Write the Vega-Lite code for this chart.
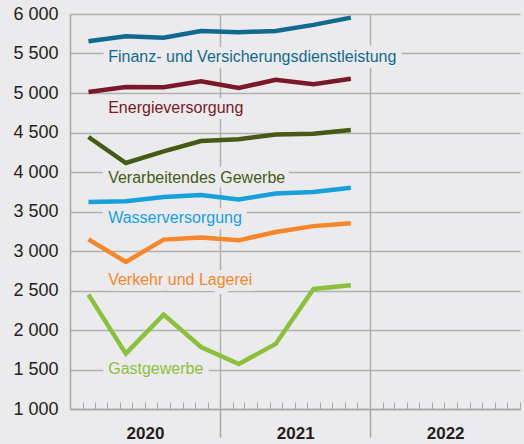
{
  "$schema": "https://vega.github.io/schema/vega-lite/v6.json",
  "width": 450,
  "height": 395,
  "autosize": {"type": "none"},
  "padding": {"left": 70, "top": 14, "right": 4, "bottom": 35},
  "background": "#ebebed",
  "config": {
    "view": {"stroke": null},
    "font": "Liberation Sans",
    "axis": {"labelFont": "Liberation Sans", "labelColor": "#231f20", "domainColor": "#a6a6a6", "gridColor": "#b0b0b0", "tickColor": "#a6a6a6"}
  },
  "datasets": {
    "lines": [
      {"date": "2020-02-15", "series": "Finanz", "value": 5654},
      {"date": "2020-05-16", "series": "Finanz", "value": 5717},
      {"date": "2020-08-16", "series": "Finanz", "value": 5700},
      {"date": "2020-11-15", "series": "Finanz", "value": 5785},
      {"date": "2021-02-15", "series": "Finanz", "value": 5770},
      {"date": "2021-05-16", "series": "Finanz", "value": 5785},
      {"date": "2021-08-16", "series": "Finanz", "value": 5862},
      {"date": "2021-11-15", "series": "Finanz", "value": 5954},
      {"date": "2020-02-15", "series": "Energie", "value": 5013},
      {"date": "2020-05-16", "series": "Energie", "value": 5076},
      {"date": "2020-08-16", "series": "Energie", "value": 5074},
      {"date": "2020-11-15", "series": "Energie", "value": 5148},
      {"date": "2021-02-15", "series": "Energie", "value": 5063},
      {"date": "2021-05-16", "series": "Energie", "value": 5168},
      {"date": "2021-08-16", "series": "Energie", "value": 5112},
      {"date": "2021-11-15", "series": "Energie", "value": 5180},
      {"date": "2020-02-15", "series": "Verarbeitendes", "value": 4443},
      {"date": "2020-05-16", "series": "Verarbeitendes", "value": 4114},
      {"date": "2020-08-16", "series": "Verarbeitendes", "value": 4262},
      {"date": "2020-11-15", "series": "Verarbeitendes", "value": 4392},
      {"date": "2021-02-15", "series": "Verarbeitendes", "value": 4414},
      {"date": "2021-05-16", "series": "Verarbeitendes", "value": 4475},
      {"date": "2021-08-16", "series": "Verarbeitendes", "value": 4483},
      {"date": "2021-11-15", "series": "Verarbeitendes", "value": 4533},
      {"date": "2020-02-15", "series": "Wasser", "value": 3620},
      {"date": "2020-05-16", "series": "Wasser", "value": 3629},
      {"date": "2020-08-16", "series": "Wasser", "value": 3684},
      {"date": "2020-11-15", "series": "Wasser", "value": 3709},
      {"date": "2021-02-15", "series": "Wasser", "value": 3651},
      {"date": "2021-05-16", "series": "Wasser", "value": 3727},
      {"date": "2021-08-16", "series": "Wasser", "value": 3747},
      {"date": "2021-11-15", "series": "Wasser", "value": 3800},
      {"date": "2020-02-15", "series": "Verkehr", "value": 3148},
      {"date": "2020-05-16", "series": "Verkehr", "value": 2861},
      {"date": "2020-08-16", "series": "Verkehr", "value": 3144},
      {"date": "2020-11-15", "series": "Verkehr", "value": 3170},
      {"date": "2021-02-15", "series": "Verkehr", "value": 3135},
      {"date": "2021-05-16", "series": "Verkehr", "value": 3241},
      {"date": "2021-08-16", "series": "Verkehr", "value": 3315},
      {"date": "2021-11-15", "series": "Verkehr", "value": 3351},
      {"date": "2020-02-15", "series": "Gast", "value": 2448},
      {"date": "2020-05-16", "series": "Gast", "value": 1701},
      {"date": "2020-08-16", "series": "Gast", "value": 2195},
      {"date": "2020-11-15", "series": "Gast", "value": 1785},
      {"date": "2021-02-15", "series": "Gast", "value": 1570},
      {"date": "2021-05-16", "series": "Gast", "value": 1824},
      {"date": "2021-08-16", "series": "Gast", "value": 2520},
      {"date": "2021-11-15", "series": "Gast", "value": 2566}
    ],
    "labels": [
      {"date": "2020-04-03", "series": "Finanz", "value": 5455, "text": "Finanz- und Versicherungsdienstleistung"},
      {"date": "2020-04-03", "series": "Energie", "value": 4805, "text": "Energieversorgung"},
      {"date": "2020-04-03", "series": "Verarbeitendes", "value": 3920, "text": "Verarbeitendes Gewerbe"},
      {"date": "2020-04-03", "series": "Wasser", "value": 3415, "text": "Wasserversorgung"},
      {"date": "2020-04-03", "series": "Verkehr", "value": 2630, "text": "Verkehr und Lagerei"},
      {"date": "2020-04-03", "series": "Gast", "value": 1505, "text": "Gastgewerbe"}
    ]
  },
  "resolve": {"axis": {"x": "independent", "y": "shared"}},
  "encoding": {
    "y": {
      "field": "value",
      "type": "quantitative",
      "scale": {"domain": [1000, 6000], "nice": false, "zero": false},
      "axis": {
        "title": null,
        "values": [1000, 1500, 2000, 2500, 3000, 3500, 4000, 4500, 5000, 5500, 6000],
        "labelExpr": "replace(format(datum.value, ','), ',', ' ')",
        "labelFontSize": 18,
        "labelPadding": 12,
        "ticks": false,
        "domainWidth": 1.5,
        "gridWidth": 1.5
      }
    },
    "color": {
      "field": "series",
      "type": "nominal",
      "legend": null,
      "scale": {
        "domain": ["Finanz", "Energie", "Verarbeitendes", "Wasser", "Verkehr", "Gast"],
        "range": ["#12698f", "#7a1828", "#455a14", "#17a0dc", "#f5862a", "#8cc03c"]
      }
    }
  },
  "layer": [
    {
      "data": {"name": "labels"},
      "mark": {"type": "text", "align": "left", "baseline": "middle", "fontSize": 16, "stroke": "#ebebed", "strokeWidth": 12, "strokeJoin": "round"},
      "encoding": {
        "x": {
          "field": "date",
          "type": "temporal",
          "scale": {"type": "utc", "domain": [{"year": 2020, "month": 1, "date": 1, "utc": true}, {"year": 2023, "month": 1, "date": 1, "utc": true}]},
          "axis": {
            "title": null,
            "orient": "bottom",
            "tickCount": {"interval": "year", "step": 1},
            "grid": true,
            "gridWidth": 1.5,
            "domain": false,
            "tickSize": 28,
            "tickWidth": 1.5,
            "tickOpacity": {"condition": {"test": "utcyear(datum.value) == 2020 || utcyear(datum.value) == 2023", "value": 0}, "value": 1},
            "gridOpacity": {"condition": {"test": "utcyear(datum.value) == 2020 || utcyear(datum.value) == 2023", "value": 0}, "value": 1},
            "labelExpr": "utcyear(datum.value) < 2023 ? utcFormat(datum.value, '%Y') : ''",
            "labelOffset": 75,
            "labelAlign": "center",
            "labelPadding": -12,
            "labelFontSize": 17,
            "labelFontWeight": "bold",
            "labelFlush": false,
            "labelOverlap": false
          }
        },
        "y": {"field": "value", "type": "quantitative"},
        "text": {"field": "text"}
      }
    },
    {
      "data": {"name": "lines"},
      "mark": {"type": "line", "strokeWidth": 4.5, "strokeJoin": "miter"},
      "encoding": {
        "x": {
          "field": "date",
          "type": "temporal",
          "axis": {
            "title": null,
            "orient": "bottom",
            "tickCount": {"interval": "month", "step": 1},
            "labels": false,
            "grid": false,
            "domainWidth": 1.5,
            "tickSize": -7,
            "tickWidth": 1
          }
        },
        "y": {"field": "value", "type": "quantitative"}
      }
    },
    {
      "data": {"name": "labels"},
      "mark": {"type": "text", "align": "left", "baseline": "middle", "fontSize": 16},
      "encoding": {
        "x": {"field": "date", "type": "temporal", "axis": null},
        "y": {"field": "value", "type": "quantitative"},
        "text": {"field": "text"}
      }
    }
  ]
}
